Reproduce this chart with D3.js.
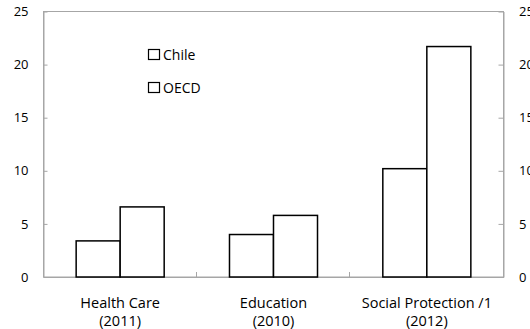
<!DOCTYPE html>
<html>
<head>
<meta charset="utf-8">
<script src="https://cdn.jsdelivr.net/npm/d3@7"></script>
<style>
  html, body { margin: 0; padding: 0; background: #fff; }
  svg { display: block; }
  text { font-family: "Open Sans", "Noto Sans", sans-serif; fill: #000; }
</style>
</head>
<body>
<svg id="chart" width="530" height="329"></svg>
<script>
// Spending categories (with reference year) and the two compared series
const categories = ["Health Care", "Education", "Social Protection /1"];
const categoryYears = ["(2011)", "(2010)", "(2012)"];
const seriesNames = ["Chile", "OECD"];
const chileValues = [3.4, 4.0, 10.2];
const oecdValues = [6.6, 5.8, 21.7];
const yTicks = [0, 5, 10, 15, 20, 25];

const svg = d3.select("#chart");
const plotLeft = 43.5, plotRight = 503.5, plotTop = 11.5, plotBottom = 277;

const y = d3.scaleLinear().domain([0, 25]).range([plotBottom, plotTop]);
const x = d3.scaleBand().domain(categories).range([plotLeft, plotRight]).padding(0);
const xSub = d3.scaleBand().domain(seriesNames).range([0, x.bandwidth()])
  .paddingInner(0).paddingOuter(0.742);

const axisColor = "#a6a6a6";
const fontFamily = "'Open Sans', 'Noto Sans', sans-serif";

// plot area frame
svg.append("rect")
  .attr("x", plotLeft).attr("y", plotTop)
  .attr("width", plotRight - plotLeft).attr("height", plotBottom - plotTop)
  .attr("fill", "none").attr("stroke", axisColor).attr("stroke-width", 1);

// left value axis, ticks pointing inward
const yLeft = svg.append("g").attr("transform", `translate(${plotLeft},0)`)
  .call(d3.axisLeft(y).tickValues(yTicks).tickSizeInner(-4).tickSizeOuter(0).tickPadding(15));
// right value axis, ticks pointing inward
const yRight = svg.append("g").attr("transform", `translate(${plotRight},0)`)
  .call(d3.axisRight(y).tickValues(yTicks).tickSizeInner(-5).tickSizeOuter(0).tickPadding(15.5));

// category axis with separators between groups
const xAxis = svg.append("g").attr("transform", `translate(0,${plotBottom})`)
  .call(d3.axisBottom(x).tickValues([]).tickSizeOuter(0));
svg.append("g").selectAll("line")
  .data(categories.slice(1))
  .join("line")
  .attr("x1", d => Math.round(x(d)) - 0.5).attr("x2", d => Math.round(x(d)) - 0.5)
  .attr("y1", plotBottom).attr("y2", plotBottom - 5)
  .attr("stroke", axisColor);

[yLeft, yRight, xAxis].forEach(g => {
  g.select(".domain").attr("stroke", axisColor);
  g.selectAll(".tick line").attr("stroke", axisColor);
  g.selectAll("text").attr("font-size", 13).attr("font-family", fontFamily).attr("fill", "#000");
});

// bars
const rows = categories.map((c, i) => ({ cat: c, values: [chileValues[i], oecdValues[i]] }));
const groups = svg.append("g").selectAll("g")
  .data(rows).join("g")
  .attr("transform", d => `translate(${x(d.cat)},0)`);
groups.selectAll("rect")
  .data(d => d.values.map((v, j) => ({ name: seriesNames[j], v })))
  .join("rect")
  .attr("x", d => xSub(d.name))
  .attr("y", d => y(d.v))
  .attr("width", xSub.bandwidth())
  .attr("height", d => plotBottom - y(d.v))
  .attr("fill", "#fff")
  .attr("stroke", "#000")
  .attr("stroke-width", 1.5);

// category labels (two lines)
const labels = svg.append("g").selectAll("text")
  .data(categories).join("text")
  .attr("text-anchor", "middle")
  .attr("font-size", 14.5);
labels.append("tspan").attr("x", d => x(d) + x.bandwidth() / 2).attr("y", 308).text(d => d);
labels.append("tspan").attr("x", d => x(d) + x.bandwidth() / 2).attr("y", 326).text((d, i) => categoryYears[i]);

// legend
const legend = svg.append("g").selectAll("g")
  .data(seriesNames).join("g")
  .attr("transform", (d, i) => `translate(148.5,${49.5 + i * 33})`);
legend.append("rect")
  .attr("width", 11).attr("height", 10)
  .attr("fill", "#fff").attr("stroke", "#000").attr("stroke-width", 1.2);
legend.append("text")
  .attr("x", 14.5).attr("y", 10.5)
  .attr("font-size", 14)
  .text(d => d);
</script>
</body>
</html>
